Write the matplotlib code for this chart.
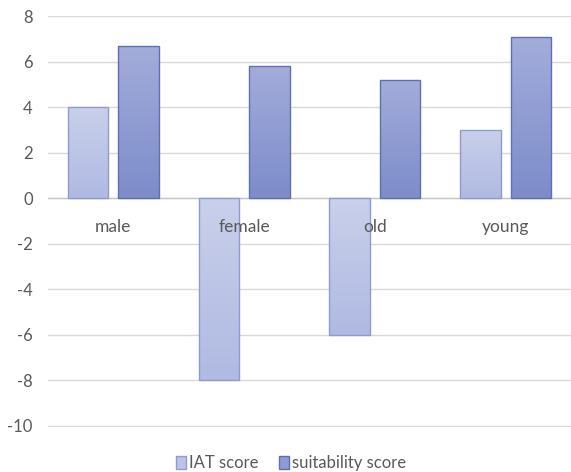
import numpy as np
import matplotlib
matplotlib.use("Agg")
import matplotlib.pyplot as plt
from matplotlib.colors import LinearSegmentedColormap
from matplotlib.patches import Patch

# dados
categories = ["male", "female", "old", "young"]
iat_score = [4, -8, -6, 3]
suitability_score = [6.7, 5.8, 5.2, 7.1]
yticks = [-10, -8, -6, -4, -2, 0, 2, 4, 6, 8]

plt.rcParams["font.family"] = ["Lato", "DejaVu Sans"]

fig = plt.figure(figsize=(5.71, 4.72), dpi=100)
ax = fig.add_axes([0.084, 0.095, 0.916, 0.871])

# degrade vertical dentro de cada barra (claro em cima, escuro embaixo)
def gradientBars(bars, topColor, bottomColor):
    cmap = LinearSegmentedColormap.from_list("g", [topColor, bottomColor])
    grad = np.linspace(0, 1, 64).reshape(-1, 1)
    for b in bars:
        x0, y0 = b.get_x(), b.get_y()
        x1, y1 = x0 + b.get_width(), y0 + b.get_height()
        lo, hi = min(y0, y1), max(y0, y1)
        im = ax.imshow(grad, cmap=cmap, aspect="auto", extent=(x0, x1, lo, hi),
                       origin="upper", zorder=3)
        im.set_clip_path(b)
        b.set_facecolor("none")

x = np.arange(len(categories))
w = 0.31
gap = 0.038
b1 = ax.bar(x - w / 2 - gap, iat_score, w, edgecolor="#8f9ace", linewidth=1, zorder=3.5)
b2 = ax.bar(x + w / 2 + gap, suitability_score, w, edgecolor="#5f6fb0", linewidth=1, zorder=3.5)
gradientBars(b1, "#c9d0eb", "#b0bae2")
gradientBars(b2, "#a3addb", "#7d8cca")

ax.set_xlim(-0.5, len(categories) - 0.5)
ax.set_ylim(-10.06, 8)
ax.set_yticks(yticks)
ax.set_yticklabels([str(t) for t in yticks], fontsize=12, color="#595959")
ax.tick_params(axis="y", length=0, pad=11)
ax.set_xticks([])
ax.grid(axis="y", color="#d9d9d9", linewidth=1, zorder=0)
ax.axhline(0, color="#c8c8c8", linewidth=1, zorder=2)
for s in ax.spines.values():
    s.set_visible(False)

for i, c in enumerate(categories):
    ax.text(i, -1.25, c, ha="center", va="center", fontsize=12.5, color="#595959", zorder=5)

handles = [Patch(facecolor="#bcc4e6", edgecolor="#8f9ace", label="IAT score"),
           Patch(facecolor="#8e9cd3", edgecolor="#5f6fb0", label="suitability score")]
leg = fig.legend(handles=handles, loc="lower center", bbox_to_anchor=(0.51, -0.03), ncol=2, frameon=False,
                 fontsize=12, handlelength=0.6, handleheight=0.8, handletextpad=0.2, columnspacing=1.2)
for t in leg.get_texts():
    t.set_color("#595959")

fig.savefig("out.png", dpi=100)
